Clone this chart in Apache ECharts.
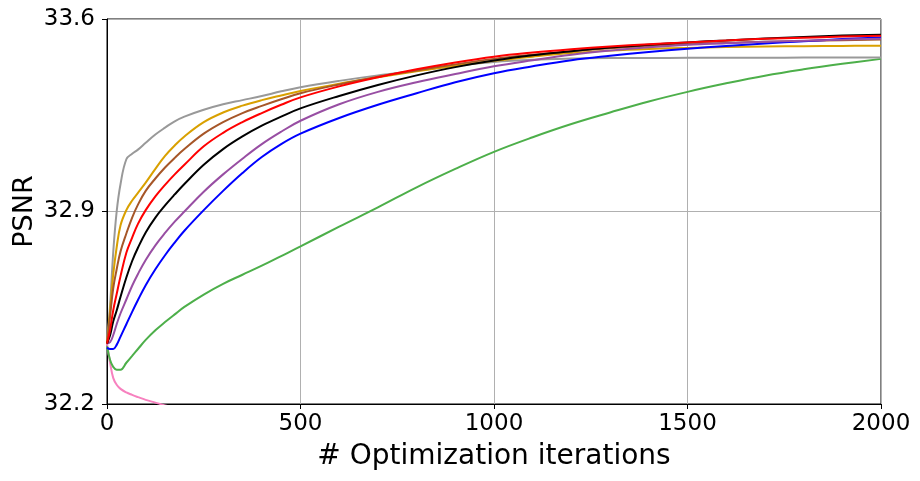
<!DOCTYPE html>
<html>
<head>
<meta charset="utf-8">
<title>PSNR vs optimization iterations</title>
<script src="https://cdn.jsdelivr.net/npm/echarts@6/dist/echarts.min.js"></script>
<style>
  html, body { margin: 0; padding: 0; background: #fff; }
  #chart { width: 920px; height: 481px; }
</style>
</head>
<body>
<div id="chart"></div>
<script>
const iters = [0, 8, 16, 25, 35, 50, 65, 80, 100, 125, 150, 175, 200, 250, 300, 350, 400, 450, 500,
  600, 700, 800, 900, 1000, 1100, 1200, 1300, 1400, 1500, 1600, 1700, 1800, 1900, 2000];

const greyVals = [32.42, 32.56, 32.75, 32.90, 33.00, 33.09, 33.11, 33.125, 33.15, 33.18, 33.205, 33.228, 33.245, 33.27, 33.29, 33.305, 33.32, 33.337, 33.352,
  33.375, 33.395, 33.412, 33.43, 33.444, 33.452, 33.456, 33.458, 33.458, 33.459, 33.459, 33.459, 33.46, 33.46, 33.46];
const goldVals = [32.42, 32.54, 32.67, 32.77, 32.85, 32.905, 32.94, 32.968, 33.005, 33.055, 33.102, 33.14, 33.173, 33.225, 33.26, 33.285, 33.305, 33.322, 33.338,
  33.365, 33.388, 33.41, 33.43, 33.448, 33.463, 33.476, 33.485, 33.491, 33.495, 33.498, 33.5, 33.501, 33.502, 33.503];
const brownVals = [32.42, 32.52, 32.62, 32.69, 32.755, 32.82, 32.878, 32.925, 32.975, 33.02, 33.06, 33.095, 33.127, 33.183, 33.225, 33.258, 33.284, 33.308, 33.33,
  33.362, 33.39, 33.413, 33.435, 33.455, 33.47, 33.483, 33.494, 33.502, 33.508, 33.513, 33.517, 33.52, 33.523, 33.525];
const redVals = [32.42, 32.47, 32.54, 32.60, 32.665, 32.75, 32.805, 32.855, 32.905, 32.955, 32.997, 33.035, 33.07, 33.137, 33.186, 33.225, 33.258, 33.288, 33.315,
  33.355, 33.388, 33.417, 33.442, 33.463, 33.478, 33.49, 33.5, 33.508, 33.515, 33.522, 33.528, 33.532, 33.536, 33.539];
const blackVals = [32.42, 32.45, 32.50, 32.54, 32.59, 32.66, 32.72, 32.768, 32.824, 32.878, 32.922, 32.962, 33.0, 33.07, 33.127, 33.173, 33.212, 33.245, 33.275,
  33.32, 33.36, 33.395, 33.425, 33.449, 33.468, 33.483, 33.496, 33.506, 33.515, 33.522, 33.529, 33.535, 33.54, 33.543];
const purpleVals = [32.42, 32.425, 32.45, 32.49, 32.53, 32.58, 32.63, 32.673, 32.724, 32.777, 32.822, 32.863, 32.9, 32.972, 33.035, 33.092, 33.145, 33.19, 33.23,
  33.29, 33.335, 33.37, 33.40, 33.428, 33.45, 33.47, 33.485, 33.497, 33.506, 33.512, 33.517, 33.521, 33.525, 33.528];
const blueVals = [32.405, 32.40, 32.40, 32.415, 32.445, 32.49, 32.535, 32.578, 32.632, 32.69, 32.741, 32.787, 32.83, 32.905, 32.975, 33.04, 33.098, 33.145, 33.183,
  33.24, 33.288, 33.33, 33.37, 33.403, 33.428, 33.45, 33.466, 33.48, 33.492, 33.502, 33.511, 33.519, 33.527, 33.533];
const greenVals = [32.41, 32.36, 32.335, 32.325, 32.325, 32.35, 32.375, 32.40, 32.433, 32.468, 32.498, 32.526, 32.553, 32.598, 32.637, 32.67, 32.703, 32.738, 32.773,
  32.845, 32.915, 32.988, 33.055, 33.117, 33.17, 33.218, 33.26, 33.30, 33.335, 33.366, 33.394, 33.417, 33.437, 33.455];
// pink drops below the visible range after ~150 iterations
const pinkVals = [32.42, 32.35, 32.295, 32.27, 32.255, 32.242, 32.233, 32.225, 32.215, 32.205, 32.195, 32.187, 32.18];

const xTicks = [0, 500, 1000, 1500, 2000];
const yTicks = [32.2, 32.9, 33.6];

function pairs(vals) {
  const out = [];
  vals.forEach((v, i) => { out.push([iters[i], v]); });
  return out;
}

function line(name, color, vals) {
  return {
    name: name,
    type: 'line',
    data: pairs(vals),
    showSymbol: false,
    smooth: 0.4,
    clip: true,
    lineStyle: { color: color, width: 2 },
    itemStyle: { color: color },
    emphasis: { disabled: true }
  };
}

const chart = echarts.init(document.getElementById('chart'));

const option = {
  backgroundColor: '#fff',
  animation: false,
  textStyle: { fontFamily: 'DejaVu Sans' },
  grid: {
    left: 107, right: 39, top: 19, bottom: 77,
    outerBoundsMode: 'none',
    containLabel: false,
    show: true, borderColor: '#000', borderWidth: 1, backgroundColor: 'transparent'
  },
  xAxis: {
    type: 'value',
    min: xTicks[0],
    max: xTicks[xTicks.length - 1],
    interval: 500,
    name: '# Optimization iterations',
    nameLocation: 'middle',
    nameGap: 39,
    nameMoveOverlap: false,
    nameTextStyle: { fontSize: 28, color: '#000', fontFamily: 'DejaVu Sans' },
    axisLine: { show: true, lineStyle: { color: '#000', width: 1 } },
    axisTick: { show: true, inside: false, length: 5, lineStyle: { color: '#000', width: 1 } },
    axisLabel: {
      fontSize: 23, color: '#000', margin: 9, fontFamily: 'DejaVu Sans',
      formatter: (v) => String(v)
    },
    splitLine: { show: true, lineStyle: { color: '#b0b0b0', width: 1 } }
  },
  yAxis: {
    type: 'value',
    min: yTicks[0],
    max: yTicks[yTicks.length - 1],
    interval: 0.7,
    name: 'PSNR',
    nameLocation: 'middle',
    nameGap: 69,
    nameMoveOverlap: false,
    nameTextStyle: { fontSize: 27, color: '#000', fontFamily: 'DejaVu Sans' },
    axisLine: { show: true, lineStyle: { color: '#000', width: 1 } },
    axisTick: { show: true, inside: false, length: 5, lineStyle: { color: '#000', width: 1 } },
    axisLabel: {
      fontSize: 23, color: '#000', margin: 12, fontFamily: 'DejaVu Sans',
      formatter: (v) => v.toFixed(1)
    },
    splitLine: { show: true, lineStyle: { color: '#b0b0b0', width: 1 } }
  },
  series: [
    line('pink', '#f781bf', pinkVals),
    line('green', '#4daf4a', greenVals),
    line('grey', '#999999', greyVals),
    line('gold', '#d9a000', goldVals),
    line('brown', '#a65628', brownVals),
    line('blue', '#0000ff', blueVals),
    line('purple', '#984ea3', purpleVals),
    line('black', '#000000', blackVals),
    line('red', '#ff0000', redVals)
  ]
};

chart.setOption(option);
</script>
</body>
</html>
